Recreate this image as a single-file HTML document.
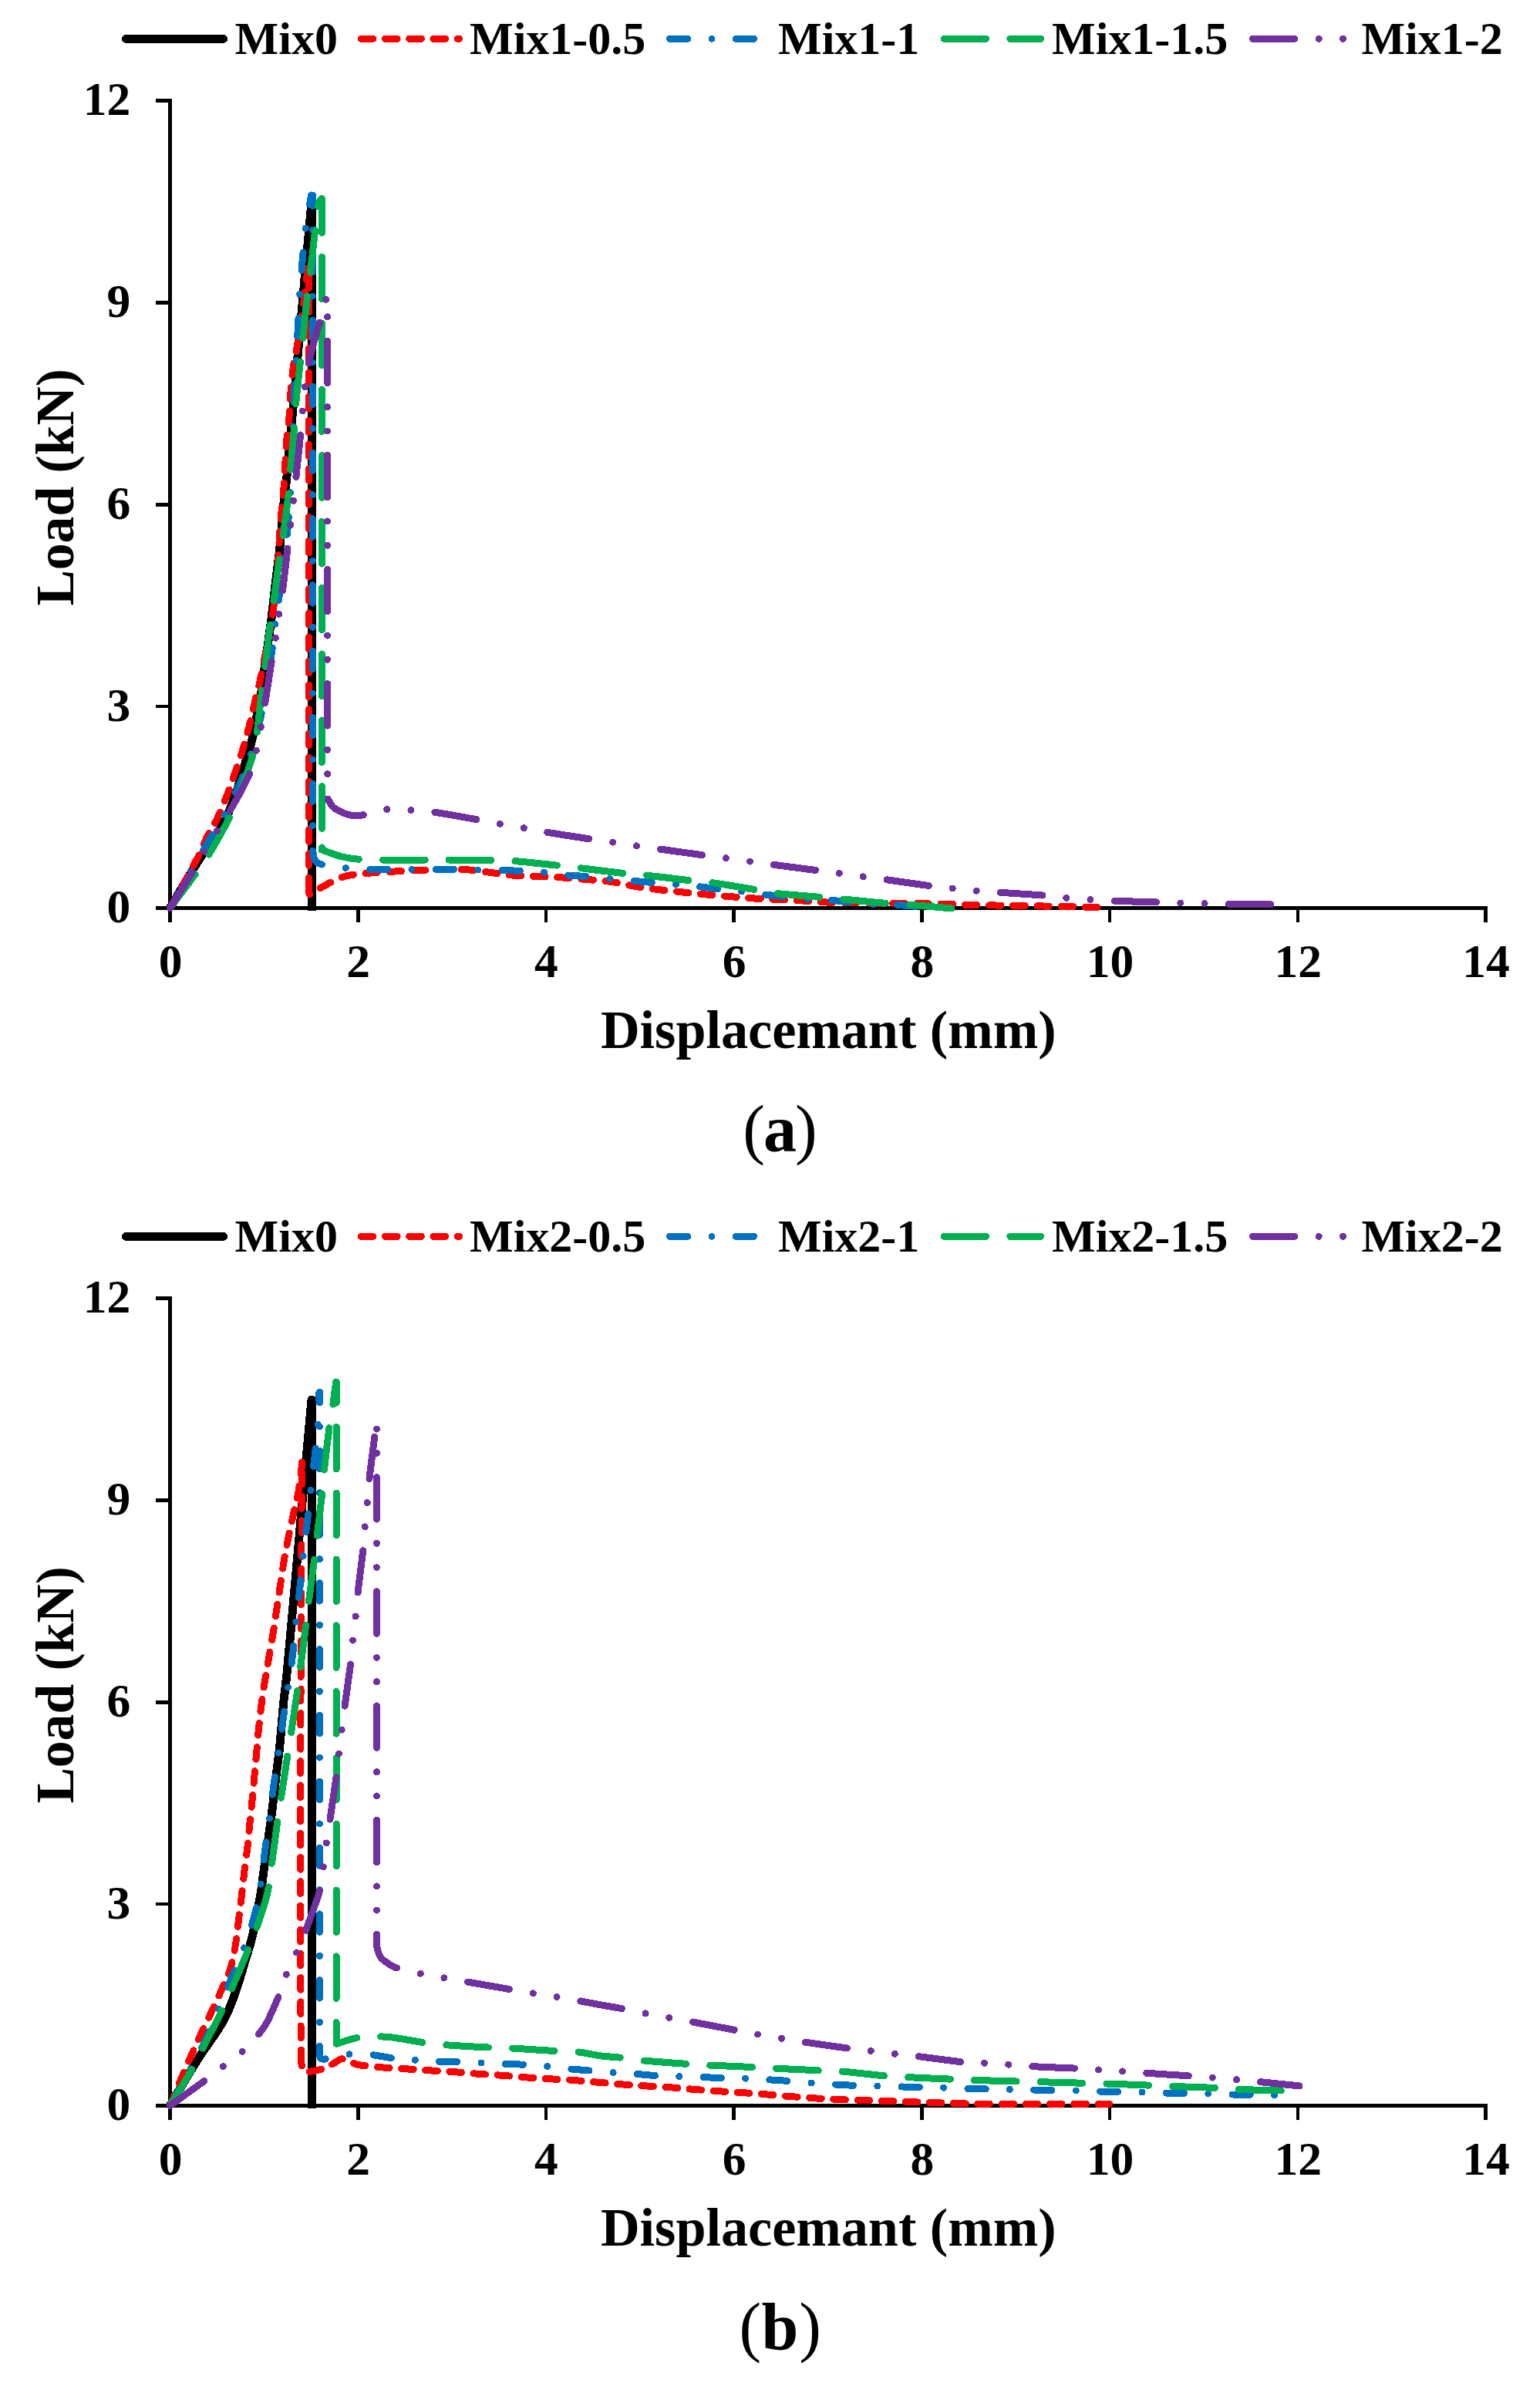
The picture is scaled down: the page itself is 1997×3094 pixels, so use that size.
<!DOCTYPE html>
<html lang="en"><head><meta charset="utf-8"><title>Load-displacement curves</title>
<style>
html,body{margin:0;padding:0;background:#fff}
body{width:1997px;height:3094px;overflow:hidden}
svg{display:block}
text{font-family:"Liberation Serif","DejaVu Serif",serif;font-weight:bold;fill:#000}
.lg{font-size:60px}
.tk{font-size:61.5px}
.ttl{font-size:70.2px}
.ytl{font-size:69.6px}
.sub{font-size:86px}
.par{font-weight:normal}
</style></head><body>
<svg width="1997" height="3094" viewBox="0 0 1997 3094">
<rect width="1997" height="3094" fill="#fff"/>
<g id="chart-a" shape-rendering="crispEdges">
<path d="M163.5 50.3 H289.5" stroke="#000" stroke-width="11" stroke-linecap="round" fill="none"/>
<path d="M468.3 50.3H595.4" stroke="#FF0000" stroke-width="9.0" stroke-linecap="round" fill="none" stroke-dasharray="15.60 15.60" stroke-dashoffset="0.00"/>
<path d="M868.4 50.3H978.4" stroke="#0070C0" stroke-width="9.0" stroke-linecap="round" fill="none" stroke-dasharray="23.40 31.20 0.01 31.20" stroke-dashoffset="0.00"/>
<path d="M1224 50.3H1349.5" stroke="#00B050" stroke-width="9.0" stroke-linecap="round" fill="none" stroke-dasharray="54.60 31.20" stroke-dashoffset="0.00"/>
<path d="M1624.4 50.3H1742.2" stroke="#7030A0" stroke-width="9.0" stroke-linecap="round" fill="none" stroke-dasharray="54.60 31.19 0.01 31.19 0.01 31.19" stroke-dashoffset="0.00"/>
<text x="304.6" y="70" class="lg">Mix0</text>
<text x="609" y="70" class="lg">Mix1-0.5</text>
<text x="1009" y="70" class="lg">Mix1-1</text>
<text x="1364" y="70" class="lg">Mix1-1.5</text>
<text x="1765.4" y="70" class="lg">Mix1-2</text>
<path d="M220.5 128.4V1196M202 1177.6H1928.9" stroke="#000" stroke-width="4.6" fill="none"/>
<path d="M202 130.7H220.5M202 392.4H220.5M202 654.2H220.5M202 916H220.5M464.2 1177.6V1196M707.9 1177.6V1196M951.7 1177.6V1196M1195.4 1177.6V1196M1439.1 1177.6V1196M1682.8 1177.6V1196M1926.5 1177.6V1196" stroke="#000" stroke-width="4.6" fill="none"/>
<text x="169.3" y="149.3" class="tk" text-anchor="end">12</text>
<text x="169.3" y="411.1" class="tk" text-anchor="end">9</text>
<text x="169.3" y="672.8" class="tk" text-anchor="end">6</text>
<text x="169.3" y="934.6" class="tk" text-anchor="end">3</text>
<text x="169.3" y="1196.3" class="tk" text-anchor="end">0</text>
<text x="221" y="1267.4" class="tk" text-anchor="middle">0</text>
<text x="464.7" y="1267.4" class="tk" text-anchor="middle">2</text>
<text x="708.4" y="1267.4" class="tk" text-anchor="middle">4</text>
<text x="952.2" y="1267.4" class="tk" text-anchor="middle">6</text>
<text x="1195.9" y="1267.4" class="tk" text-anchor="middle">8</text>
<text x="1439.6" y="1267.4" class="tk" text-anchor="middle">10</text>
<text x="1683.3" y="1267.4" class="tk" text-anchor="middle">12</text>
<text x="1927" y="1267.4" class="tk" text-anchor="middle">14</text>
<text x="1074.2" y="1359.4" class="ttl" text-anchor="middle">Displacemant (mm)</text>
<text transform="translate(95 631.9) rotate(-90)" class="ytl" text-anchor="middle">Load (kN)</text>
<path d="M220.5 1177.5C226.3 1167.8 243.8 1137.6 255.2 1119.5C266.6 1101.4 280.6 1083.7 289 1068.8C297.4 1053.9 300.8 1043 305.5 1030C310.2 1017 314.4 1001 317.5 991C320.6 981 322.1 976.8 324 970C325.9 963.2 327.4 957.3 329 950C330.6 942.7 332 933.8 333.5 926C335 918.2 336.6 911.8 338 903C339.4 894.2 339.8 889.2 342 873C344.2 856.8 348.8 826.5 351.5 806C354.2 785.5 356.1 765.7 358 750C359.9 734.3 361.1 727.8 362.7 712C364.3 696.2 366.1 671.7 367.7 655C369.3 638.3 369.1 647.8 372.5 612C375.9 576.2 382.8 498.3 388 440C393.2 381.7 401.3 291.7 404 262L404.5 262L404.5 1181" stroke="#000" stroke-width="11.0" fill="none" stroke-linejoin="round" stroke-linecap="butt"/>
<path d="M220.5 1177.5C226.1 1167.3 246.2 1131.5 254.2 1116.2C262.2 1100.9 263.8 1095 268.4 1085.7C273 1076.4 277.8 1069.5 282.1 1060.4C286.4 1051.3 290.6 1040.9 294.4 1031.2C298.2 1021.5 301.4 1011.8 304.8 1002C308.2 992.2 311.5 982.7 314.5 972.7C317.5 962.7 320.4 952.4 323 942.2C325.6 932 327.7 921.8 330.1 911.7C332.5 901.6 334.8 894.1 337.4 881.8C340 869.5 343.2 853.1 346 838C348.8 822.9 352.1 806.5 354.3 791C356.6 775.5 358.1 761.2 359.5 745C360.9 728.8 361.7 706.9 362.6 693.5C363.5 680.1 364 674.7 364.9 664.8C365.8 654.9 367.1 644.3 367.9 633.9C368.7 623.5 369.2 612.6 369.8 602.2C370.4 591.8 370.8 581.7 371.7 571.3C372.6 560.9 374.1 550.5 375 540C375.9 529.5 376.2 518.3 377 508C377.8 497.7 378.6 488 380 478C381.4 468 383.5 460.2 385.5 448C387.5 435.8 389.7 421.8 392 405C394.3 388.2 398.2 356.7 399.5 347" stroke="#FF0000" stroke-width="9.0" fill="none" stroke-linejoin="round" stroke-linecap="round" stroke-dasharray="15.60 15.60" stroke-dashoffset="0.00"/>
<path d="M399.5 347L400.5 347L400.5 1158" stroke="#FF0000" stroke-width="9.0" fill="none" stroke-linejoin="round" stroke-linecap="round" stroke-dasharray="15.60 15.60" stroke-dashoffset="19.15"/>
<path d="M400.5 1158L401.5 1160C403.5 1158.8 408.6 1155.4 413.4 1152.7C418.2 1150 424.2 1146.4 430.3 1143.6C436.4 1140.8 441.2 1137.7 449.7 1135.8C458.1 1133.9 470.6 1133 481 1132C491.4 1131 501.4 1130.6 512 1130C522.6 1129.4 534 1129 544.5 1128.6C555 1128.2 565.2 1127.7 575 1127.5C584.8 1127.3 592.7 1126.8 603 1127.5C613.3 1128.2 626 1130.2 636.8 1131.5C647.6 1132.8 657.6 1134.5 668 1135.3C678.4 1136.1 688.7 1136.1 699 1136.6C709.3 1137 719.6 1137.3 730 1138C740.4 1138.7 750.9 1139.6 761.4 1140.5C771.9 1141.4 782.3 1142 792.7 1143.5C803.1 1145 813.4 1147.7 823.6 1149.4C833.8 1151.1 843.5 1152.3 853.8 1153.6C864.1 1154.9 874.9 1155.9 885.3 1157C895.7 1158.1 905.6 1159 916 1160C926.4 1161 937.2 1161.9 947.6 1162.7C958 1163.5 968.1 1164.3 978.4 1165C988.7 1165.7 999.2 1166.1 1009.6 1166.6C1020 1167.1 1030.6 1167.4 1041 1168C1051.4 1168.6 1061.7 1169.5 1072 1170C1082.3 1170.5 1087.4 1170.5 1102.8 1170.8C1118.2 1171 1148.8 1171.3 1164.5 1171.5C1180.2 1171.7 1186.5 1171.7 1197 1171.8C1207.5 1171.9 1217.3 1172 1227.8 1172.3C1238.2 1172.6 1249.2 1173.2 1259.7 1173.5C1270.2 1173.8 1275.5 1173.8 1291 1174C1306.5 1174.2 1332.2 1174.6 1353 1175C1373.8 1175.4 1403.8 1176.1 1415.6 1176.4C1427.3 1176.7 1422.2 1176.6 1423.5 1176.6" stroke="#FF0000" stroke-width="9.0" fill="none" stroke-linejoin="round" stroke-linecap="round" stroke-dasharray="15.60 15.60" stroke-dashoffset="12.94"/>
<path d="M220.5 1177.5C225.1 1169.6 239.6 1144.7 248 1130C256.4 1115.3 263.7 1102.1 271 1089.6C278.3 1077.1 285.2 1067.3 291.8 1055.2C298.4 1043.1 305.3 1028.6 310.5 1016.9C315.7 1005.2 319.1 996.5 323 985C326.9 973.5 330.5 962.2 334 948C337.5 933.8 340.9 916.9 344 900C347.1 883.1 350.2 862.2 352.3 846.8C354.4 831.4 355.3 819.9 356.9 807.8C358.5 795.7 360.1 787.3 362 774C363.9 760.7 366.3 741.4 368 728C369.7 714.6 371.3 703 372.3 693.5C373.3 684 373.5 680 374.2 670.8C374.9 661.6 375.8 650.3 376.5 638.5C377.2 626.7 377.9 614.6 378.5 600C379.1 585.4 379.8 566.3 380.3 551C380.9 535.7 381.2 522.2 381.8 508C382.4 493.8 383.2 479.8 384 465.6C384.8 451.4 385.7 437.1 386.5 422.8C387.3 408.5 387.8 394.2 388.7 380C389.6 365.8 390.9 351.6 392.2 337.4C393.5 323.2 394.9 306.2 396.4 294.6C397.9 283 399.8 274.9 401 268C402.2 261.1 403.2 255.5 403.6 253" stroke="#0070C0" stroke-width="9.0" fill="none" stroke-linejoin="round" stroke-linecap="round" stroke-dasharray="23.40 31.20 0.01 31.20" stroke-dashoffset="0.00"/>
<path d="M403.6 253L405.5 253L405.5 1100" stroke="#0070C0" stroke-width="9.0" fill="none" stroke-linejoin="round" stroke-linecap="round" stroke-dasharray="23.40 31.20 0.01 31.20" stroke-dashoffset="7.34"/>
<path d="M405.5 1100L405.6 1102C406 1104.2 406.2 1111.8 408.2 1115C410.1 1118.2 410.8 1119.2 417.3 1121C423.8 1122.8 437.2 1124.4 447.1 1125.5C457.1 1126.6 467.5 1127.2 477 1127.5C486.5 1127.8 495 1127.5 504.3 1127.5C513.6 1127.5 523.2 1127.5 532.9 1127.5C542.6 1127.5 553.2 1127.3 562.7 1127.3C572.2 1127.3 580.7 1127.2 590 1127.3C599.3 1127.4 608.9 1127.8 618.6 1128C628.3 1128.2 638.9 1128.4 648.4 1128.6C657.9 1128.8 666.3 1128.9 675.7 1129.4C685.1 1129.9 695 1130.5 704.8 1131.4C714.5 1132.3 724.8 1134.1 734.2 1135C743.6 1135.9 752.1 1135.8 761.4 1136.6C770.7 1137.4 780.2 1138.8 790 1139.7C799.8 1140.7 810.9 1141.5 820.3 1142.3C829.7 1143.1 837 1143.7 846.3 1144.5C855.5 1145.3 865.8 1146.1 875.8 1147C885.8 1147.9 897 1148.7 906.4 1149.7C915.8 1150.7 923.1 1152 932.3 1153C941.5 1154 951.9 1154.8 961.6 1156C971.4 1157.2 981.3 1158.9 990.8 1160C1000.3 1161.1 1009.1 1161.7 1018.4 1162.7C1027.7 1163.7 1036.9 1165.2 1046.6 1166C1056.3 1166.8 1067.4 1166.6 1076.8 1167.3C1086.2 1168 1093.6 1169 1102.8 1170C1112 1171 1122.3 1172.5 1132 1173C1141.7 1173.5 1151 1172.8 1161 1173.3C1171 1173.8 1186.8 1175.3 1192 1175.7" stroke="#0070C0" stroke-width="9.0" fill="none" stroke-linejoin="round" stroke-linecap="round" stroke-dasharray="23.40 31.20 0.01 31.20" stroke-dashoffset="82.46"/>
<path d="M220.5 1177.5C226.1 1170 245.6 1144.1 254 1132.5C262.4 1120.9 263.6 1120.1 271 1107.8C278.4 1095.5 291.1 1073 298.3 1058.4C305.5 1043.8 309 1033.4 314 1020C319 1006.6 325 989.8 328.2 978C331.4 966.2 331.7 961.6 333.4 949.4C335.1 937.2 336.8 919.3 338.5 905C340.2 890.7 341.9 879.6 343.9 863.6C345.9 847.6 348.6 823.1 350.4 809C352.2 794.9 352.8 793.7 354.9 779.2C356.9 764.7 360.7 735.9 362.7 722C364.7 708.1 365.1 710 367.1 695.7C369.1 681.4 373.1 650.3 374.7 636.1C376.3 621.9 375.4 624.8 376.6 610.5C377.8 596.2 380.7 565 381.9 550.2C383.1 535.4 382.5 535.8 383.8 521.8C385.1 507.8 388.2 480.6 389.7 466.4C391.2 452.1 391.5 450.5 393 436.3C394.5 422.1 397.3 395.2 398.9 381C400.5 366.8 401 365 402.7 351C404.4 337 407.4 309.7 408.8 297C410.2 284.3 410.4 280.7 411.2 275C412 269.3 412.5 265.9 413.5 263C414.5 260.1 416.4 258.4 417 257.5" stroke="#00B050" stroke-width="9.0" fill="none" stroke-linejoin="round" stroke-linecap="round" stroke-dasharray="54.60 31.20" stroke-dashoffset="0.00"/>
<path d="M417 257.5L417.4 257.5L417.4 1099" stroke="#00B050" stroke-width="9.0" fill="none" stroke-linejoin="round" stroke-linecap="round" stroke-dasharray="54.60 31.20" stroke-dashoffset="9.60"/>
<path d="M417.4 1099L417.3 1102C421.4 1103.4 434 1108.5 442 1110.6C450 1112.6 456.7 1113.6 465.3 1114.3C473.9 1115 479.4 1114.9 493.9 1115C508.4 1115.1 538 1115 552.3 1115C566.6 1115 565.3 1114.9 579.6 1115C593.9 1115.1 623.7 1115.4 638 1115.6C652.3 1115.8 651 1115.3 665.3 1116.4C679.6 1117.5 709.5 1120.8 723.8 1122.3C738.1 1123.8 736.8 1123.8 751 1125.5C765.2 1127.2 794.6 1130.9 809 1132.5C823.4 1134.1 823.4 1133.5 837.5 1135C851.6 1136.5 879.2 1140 893.4 1141.6C907.6 1143.2 908.3 1142.5 922.6 1144.5C936.9 1146.5 965.3 1151.3 979.4 1153.6C993.5 1155.9 992.9 1156.9 1007 1158.5C1021.1 1160.1 1049.5 1162.2 1063.8 1163.4C1078.1 1164.7 1078.7 1164.7 1093 1166C1107.3 1167.3 1135.8 1170.3 1149.9 1171.5C1164 1172.7 1163.4 1171.9 1177.5 1173C1191.6 1174.1 1224.8 1177.2 1234.3 1178" stroke="#00B050" stroke-width="9.0" fill="none" stroke-linejoin="round" stroke-linecap="round" stroke-dasharray="54.60 31.20" stroke-dashoffset="1.85"/>
<path d="M220.5 1177.5C225.3 1169.7 242.2 1142.8 249.6 1130.5C257.1 1118.2 259.9 1112.8 265.2 1103.9C270.5 1095 275.9 1086.1 281.4 1077.3C286.9 1068.5 291.1 1063.8 298.3 1051.3C305.5 1038.8 318.6 1015.2 324.3 1002C330 988.8 330.3 982.1 332.7 972C335.1 961.9 336.8 951.8 338.6 941.6C340.5 931.4 341.5 925.1 343.8 911C346.1 896.9 350 871.2 352.3 857C354.6 842.8 355.9 836.4 357.5 826C359.1 815.6 360.5 805 362 794.8C363.5 784.6 364.8 779.2 366.6 765C368.5 750.8 371.4 724 373.1 709.7C374.8 695.4 375.8 689.2 377 679C378.2 668.8 379.4 658.6 380.6 648.2C381.8 637.8 382.6 630.8 384.1 616.5C385.6 602.2 388.4 576.4 389.8 562.2C391.2 548 391.4 541.7 392.4 531.3C393.4 520.9 394.2 510.2 395.6 500C397 489.8 398.5 479.8 400.6 469.8C402.7 459.8 405.5 449.2 408 440C410.5 430.8 413.5 422.2 415.7 414.5C417.9 406.8 419.6 399 421 394C422.4 389 423.5 386.1 424 384.5" stroke="#7030A0" stroke-width="9.0" fill="none" stroke-linejoin="round" stroke-linecap="round" stroke-dasharray="54.60 31.19 0.01 31.19 0.01 31.19" stroke-dashoffset="0.00"/>
<path d="M424 384.5L424.6 384.5L424.6 1030" stroke="#7030A0" stroke-width="9.0" fill="none" stroke-linejoin="round" stroke-linecap="round" stroke-dasharray="54.60 31.19 0.01 31.19 0.01 31.19" stroke-dashoffset="90.09"/>
<path d="M424.6 1030L425 1035.8C426.1 1037.5 428.8 1043.4 431.6 1046.2C434.4 1049 438.1 1050.9 442 1052.7C445.9 1054.5 450.2 1056.4 455 1057.1C459.8 1057.8 462.9 1058.2 470.5 1056.9C478.1 1055.7 490.7 1050.6 500.9 1049.6C511.1 1048.5 521.5 1050 531.8 1050.6C542.1 1051.2 548.3 1051.2 562.7 1053.2C577.1 1055.2 603.9 1060.1 618 1062.6C632.1 1065.1 637.4 1066.5 647.4 1068.3C657.4 1070.1 667.5 1071.7 677.8 1073.5C688.1 1075.3 694.6 1076.8 709 1079.2C723.4 1081.6 749.8 1085.7 764 1087.8C778.2 1089.9 784.2 1090.5 794.4 1092C804.6 1093.5 815.1 1095.3 825.2 1096.8C835.3 1098.3 840.7 1099 855 1101C869.3 1103 896.8 1106.8 911.2 1108.8C925.6 1110.8 931.3 1111.3 941.4 1112.7C951.5 1114.1 961.9 1115.6 972 1117C982.1 1118.4 987.5 1119.3 1002 1121.2C1016.5 1123.1 1044.5 1126.7 1059 1128.6C1073.5 1130.5 1078.7 1131.1 1088.8 1132.5C1098.9 1133.9 1109.4 1135.5 1119.4 1136.8C1129.4 1138.1 1134 1138.6 1148.6 1140.6C1163.1 1142.6 1192.3 1146.9 1206.7 1148.8C1221.1 1150.7 1225.2 1150.9 1235.2 1152C1245.2 1153.1 1256.2 1154.3 1266.5 1155.2C1276.8 1156.1 1282.4 1156.3 1297 1157.3C1311.6 1158.3 1339.7 1160 1354 1161.2C1368.3 1162.4 1372.9 1163.5 1383 1164.4C1393.1 1165.3 1404.3 1166.1 1414.6 1166.7C1424.9 1167.3 1430.3 1167.8 1444.8 1168.3C1459.3 1168.8 1487.1 1169.5 1501.6 1170C1516.1 1170.5 1521.6 1170.7 1531.8 1171C1542 1171.3 1552.9 1171.4 1563 1171.6C1573.1 1171.8 1577.8 1172 1592.5 1172.2C1607.2 1172.4 1641.2 1172.8 1651 1172.9" stroke="#7030A0" stroke-width="9.0" fill="none" stroke-linejoin="round" stroke-linecap="round" stroke-dasharray="54.60 31.19 0.01 31.19 0.01 31.19" stroke-dashoffset="142.04"/>
<text y="1492.5" class="sub" text-anchor="middle"><tspan class="par" x="977.6">(</tspan><tspan x="1011.4">a</tspan><tspan class="par" x="1045.4">)</tspan></text>
</g>
<g id="chart-b" shape-rendering="crispEdges" transform="translate(0 1553)">
<path d="M163.5 50.3 H289.5" stroke="#000" stroke-width="11" stroke-linecap="round" fill="none"/>
<path d="M468.3 50.3H595.4" stroke="#FF0000" stroke-width="9.0" stroke-linecap="round" fill="none" stroke-dasharray="15.60 15.60" stroke-dashoffset="0.00"/>
<path d="M868.4 50.3H978.4" stroke="#0070C0" stroke-width="9.0" stroke-linecap="round" fill="none" stroke-dasharray="23.40 31.20 0.01 31.20" stroke-dashoffset="0.00"/>
<path d="M1224 50.3H1349.5" stroke="#00B050" stroke-width="9.0" stroke-linecap="round" fill="none" stroke-dasharray="54.60 31.20" stroke-dashoffset="0.00"/>
<path d="M1624.4 50.3H1742.2" stroke="#7030A0" stroke-width="9.0" stroke-linecap="round" fill="none" stroke-dasharray="54.60 31.19 0.01 31.19 0.01 31.19" stroke-dashoffset="0.00"/>
<text x="304.6" y="70" class="lg">Mix0</text>
<text x="609" y="70" class="lg">Mix2-0.5</text>
<text x="1009" y="70" class="lg">Mix2-1</text>
<text x="1364" y="70" class="lg">Mix2-1.5</text>
<text x="1765.4" y="70" class="lg">Mix2-2</text>
<path d="M220.5 128.4V1196M202 1177.6H1928.9" stroke="#000" stroke-width="4.6" fill="none"/>
<path d="M202 130.7H220.5M202 392.4H220.5M202 654.2H220.5M202 916H220.5M464.2 1177.6V1196M707.9 1177.6V1196M951.7 1177.6V1196M1195.4 1177.6V1196M1439.1 1177.6V1196M1682.8 1177.6V1196M1926.5 1177.6V1196" stroke="#000" stroke-width="4.6" fill="none"/>
<text x="169.3" y="149.3" class="tk" text-anchor="end">12</text>
<text x="169.3" y="411.1" class="tk" text-anchor="end">9</text>
<text x="169.3" y="672.8" class="tk" text-anchor="end">6</text>
<text x="169.3" y="934.6" class="tk" text-anchor="end">3</text>
<text x="169.3" y="1196.3" class="tk" text-anchor="end">0</text>
<text x="221" y="1267.4" class="tk" text-anchor="middle">0</text>
<text x="464.7" y="1267.4" class="tk" text-anchor="middle">2</text>
<text x="708.4" y="1267.4" class="tk" text-anchor="middle">4</text>
<text x="952.2" y="1267.4" class="tk" text-anchor="middle">6</text>
<text x="1195.9" y="1267.4" class="tk" text-anchor="middle">8</text>
<text x="1439.6" y="1267.4" class="tk" text-anchor="middle">10</text>
<text x="1683.3" y="1267.4" class="tk" text-anchor="middle">12</text>
<text x="1927" y="1267.4" class="tk" text-anchor="middle">14</text>
<text x="1074.2" y="1359.4" class="ttl" text-anchor="middle">Displacemant (mm)</text>
<text transform="translate(95 631.9) rotate(-90)" class="ytl" text-anchor="middle">Load (kN)</text>
<path d="M220.5 1177.5C226.3 1167.8 243.8 1137.6 255.2 1119.5C266.6 1101.4 280.6 1083.7 289 1068.8C297.4 1053.9 300.8 1043 305.5 1030C310.2 1017 314.4 1001 317.5 991C320.6 981 322.1 976.8 324 970C325.9 963.2 327.4 957.3 329 950C330.6 942.7 332 933.8 333.5 926C335 918.2 336.6 911.8 338 903C339.4 894.2 339.8 889.2 342 873C344.2 856.8 348.8 826.5 351.5 806C354.2 785.5 356.1 765.7 358 750C359.9 734.3 361.1 727.8 362.7 712C364.3 696.2 366.1 671.7 367.7 655C369.3 638.3 369.1 647.8 372.5 612C375.9 576.2 382.8 498.3 388 440C393.2 381.7 401.3 291.7 404 262L404.5 262L404.5 1181" stroke="#000" stroke-width="11.0" fill="none" stroke-linejoin="round" stroke-linecap="butt"/>
<path d="M220.5 1177.5C223.1 1171.2 231.5 1150.8 236 1140C240.5 1129.2 243.6 1122.3 247.7 1113C251.8 1103.7 256.2 1093.9 260.6 1084.4C265 1074.9 269.9 1065.3 274.3 1055.8C278.8 1046.3 283.2 1036.8 287.3 1027.3C291.4 1017.8 296 1008.6 299 998.7C302 988.9 303.8 978.5 305.5 968.2C307.2 957.9 308.1 947.5 309.4 937C310.7 926.5 312.2 915.4 313.4 905C314.6 894.6 315.6 884.6 316.8 874.4C318 864.1 319.6 853.8 320.8 843.5C322 833.2 322.8 823 323.8 812.7C324.8 802.4 326 792.1 327 781.8C328 771.5 328.9 761.3 329.8 751C330.8 740.7 331.8 730.4 332.7 720C333.6 709.6 334.4 698.9 335.5 688.5C336.6 678.1 337.6 668 339 657.6C340.4 647.2 342 636.1 343.6 626C345.2 615.9 346.8 607.4 348.6 597C350.4 586.6 352.6 574.3 354.3 563.7C356 553.1 357.3 543.8 358.8 533.6C360.3 523.4 361.9 512.9 363.5 502.5C365.1 492.1 366.5 481.7 368.2 471.5C369.9 461.3 371.9 451.4 373.9 441.3C375.9 431.2 378.1 421.2 380.3 411.2C382.5 401.1 385.2 391.4 387 381C388.8 370.6 390.5 355.5 391.2 349C391.9 342.5 391.4 343.2 391.4 342" stroke="#FF0000" stroke-width="9.0" fill="none" stroke-linejoin="round" stroke-linecap="round" stroke-dasharray="15.60 15.60" stroke-dashoffset="0.00"/>
<path d="M391.4 342L391.5 342L389.5 750L389.8 1050L390.5 1120" stroke="#FF0000" stroke-width="9.0" fill="none" stroke-linejoin="round" stroke-linecap="round" stroke-dasharray="15.60 15.60" stroke-dashoffset="16.71"/>
<path d="M390.5 1120L392 1130C392.6 1130.6 391.3 1133.8 395.6 1133.8C399.9 1133.8 411 1132.1 417.7 1129.9C424.4 1127.7 431.7 1123 435.8 1120.8C439.9 1118.6 439.6 1117.1 442.3 1116.9C445 1116.7 448.1 1118.2 452 1119.5C455.9 1120.8 458.2 1123.3 465.7 1124.7C473.2 1126.1 486.5 1127.1 496.9 1128C507.3 1128.9 517.6 1129.2 528 1129.9C538.4 1130.6 548.8 1131.3 559.2 1132C569.6 1132.7 580 1133.1 590.4 1133.8C600.8 1134.5 611.2 1135.6 621.6 1136.4C632 1137.2 642.3 1137.6 652.7 1138.4C663.1 1139.2 673.5 1140.2 683.9 1141C694.3 1141.8 704.6 1142.3 715 1142.9C725.4 1143.5 736 1144 746.2 1144.7C756.5 1145.4 766.2 1146.4 776.5 1147.3C786.8 1148.2 797.6 1149.2 808 1150C818.4 1150.8 828.4 1151.3 838.8 1152C849.2 1152.7 860.1 1153.2 870.6 1153.9C881.1 1154.7 891.1 1155.7 901.5 1156.5C911.9 1157.3 922.6 1158.1 933 1158.8C943.4 1159.5 953.5 1160 963.8 1160.7C974.1 1161.4 984.7 1162.2 995 1163C1005.3 1163.8 1015.4 1164.8 1025.8 1165.6C1036.2 1166.4 1046.9 1167.2 1057.3 1167.9C1067.7 1168.6 1077.8 1169.1 1088.2 1169.5C1098.7 1169.9 1109.6 1170.2 1120 1170.5C1130.4 1170.8 1140.4 1171 1150.8 1171.4C1161.2 1171.8 1171.9 1172.3 1182.3 1172.7C1192.7 1173.1 1202.9 1173.4 1213.2 1173.7C1223.5 1174 1229.5 1174.4 1244 1174.7C1258.5 1175 1267.6 1175.2 1300 1175.3C1332.4 1175.4 1415.4 1175.3 1438.5 1175.3" stroke="#FF0000" stroke-width="9.0" fill="none" stroke-linejoin="round" stroke-linecap="round" stroke-dasharray="15.60 15.60" stroke-dashoffset="9.58"/>
<path d="M220.5 1177.5C224.1 1171.1 234.8 1152.1 242 1139C249.2 1125.9 256.5 1113.3 263.5 1098.7C270.5 1084.1 278 1065.6 284 1051.3C290 1037 294.2 1026.1 299.6 1013C305 999.9 312.1 984.2 316.5 972.7C320.9 961.2 323.5 953.1 326.2 944.2C328.9 935.3 330.7 928.5 332.7 919.5C334.7 910.5 336.4 902.1 338.2 890C340 877.9 341.7 861 343.6 846.8C345.5 832.5 347.7 818.6 349.6 804.5C351.5 790.4 352.9 776.5 354.9 762.3C356.9 748.1 359.4 733.5 361.4 719.3C363.4 705.1 365.1 691.2 367.1 677C369.1 662.8 371.8 646 373.6 634C375.4 622 376.8 614.2 378 605C379.2 595.8 380.1 588 381.1 578.8C382.1 569.5 382.7 561.4 384 549.5C385.3 537.6 387.2 521.8 388.7 507.5C390.2 493.2 391.6 478.4 393.2 464C394.8 449.6 396.6 435.2 398.3 421C400 406.8 401.7 392.6 403.3 378.5C404.9 364.4 406.5 350.6 408 336.5C409.5 322.4 411.2 305.7 412.1 293.8C413 281.9 413.3 271.9 413.6 265C413.9 258.1 413.9 254.4 414 252.3" stroke="#0070C0" stroke-width="9.0" fill="none" stroke-linejoin="round" stroke-linecap="round" stroke-dasharray="23.40 31.20 0.01 31.20" stroke-dashoffset="0.00"/>
<path d="M414 252.3L414.5 252.3L414.5 1112" stroke="#0070C0" stroke-width="9.0" fill="none" stroke-linejoin="round" stroke-linecap="round" stroke-dasharray="23.40 31.20 0.01 31.20" stroke-dashoffset="9.43"/>
<path d="M414.5 1112L415.1 1115.6C416.2 1115.8 415.4 1117.8 421.6 1117C427.8 1116.2 442 1111.8 452.2 1110.9C462.4 1110 473.4 1110.9 482.6 1111.7C491.8 1112.5 498.1 1114.5 507.3 1115.6C516.5 1116.7 527.5 1117.4 537.7 1118.2C547.9 1119 559.1 1119.9 568.3 1120.3C577.5 1120.7 583.8 1120.5 593 1120.8C602.2 1121.1 613.2 1121.6 623.4 1122C633.6 1122.4 644.8 1123 654 1123.4C663.2 1123.8 669.5 1123.7 678.7 1124.2C687.9 1124.7 699.2 1125.5 709.4 1126.5C719.6 1127.5 730.5 1129 739.7 1129.9C748.9 1130.8 755.2 1131.2 764.4 1132C773.6 1132.8 784.9 1134 795 1134.7C805.1 1135.4 815.8 1135.8 825.2 1136.4C834.6 1137.1 842 1138.1 851.2 1138.6C860.4 1139.1 870.5 1139.3 880.4 1139.6C890.2 1139.9 900.9 1140.3 910.3 1140.6C919.7 1140.9 927.2 1141.3 936.6 1141.6C946 1141.9 956.5 1141.8 966.4 1142.2C976.3 1142.6 986.9 1143.2 996.3 1143.8C1005.7 1144.3 1013.3 1144.8 1022.6 1145.5C1031.9 1146.2 1042.2 1147.2 1052 1148C1061.8 1148.8 1072.3 1149.5 1081.7 1150C1091.1 1150.5 1099 1151 1108.3 1151.3C1117.6 1151.6 1127.6 1151.7 1137.5 1152C1147.4 1152.3 1158.2 1152.6 1167.7 1152.9C1177.2 1153.2 1185 1153.4 1194.4 1153.6C1203.8 1153.8 1214.2 1153.9 1224 1154.2C1233.8 1154.5 1243.8 1155.2 1253 1155.5C1262.2 1155.8 1269.6 1155.6 1279 1155.8C1288.4 1156 1299.2 1156.2 1309.4 1156.4C1319.6 1156.6 1330.9 1156.8 1340.3 1157C1349.7 1157.2 1356.8 1157.2 1366 1157.4C1375.2 1157.6 1385.8 1157.7 1395.8 1158C1405.8 1158.3 1416.6 1158.8 1426 1159C1435.4 1159.2 1442.8 1159.2 1452 1159.4C1461.2 1159.6 1471 1159.7 1481 1160C1491 1160.3 1502.5 1160.8 1512 1161C1521.5 1161.2 1528.8 1161.1 1538 1161.3C1547.2 1161.5 1557.5 1161.7 1567.5 1162C1577.5 1162.3 1588.7 1162.8 1598 1163C1607.3 1163.2 1614.2 1163 1623.4 1163.2C1632.6 1163.4 1648.1 1163.9 1653 1164" stroke="#0070C0" stroke-width="9.0" fill="none" stroke-linejoin="round" stroke-linecap="round" stroke-dasharray="23.40 31.20 0.01 31.20" stroke-dashoffset="12.01"/>
<path d="M220.5 1177.5C225 1170 240.6 1145 247.7 1132.5C254.8 1120 256.5 1115.7 263.2 1102.6C269.9 1089.5 281.6 1066.9 287.9 1053.9C294.2 1040.9 295.2 1037.9 300.9 1024.7C306.6 1011.5 316.9 987.9 322.3 974.7C327.7 961.5 329.4 957.5 333.4 945.5C337.4 933.5 343.3 916.8 346.5 903C349.7 889.2 350.3 878.6 352.5 863C354.7 847.4 357.8 823.7 359.8 809.4C361.8 795.1 362.5 791.2 364.7 777C366.9 762.8 370.6 738.3 372.8 724.2C375 710.1 375.5 706.7 377.7 692.5C379.9 678.3 383.8 653.1 385.8 639C387.8 624.9 387.9 622.5 389.8 608C391.7 593.5 395.2 566.1 397 552C398.8 537.9 398.6 537.8 400.4 523.5C402.2 509.2 406.2 480.9 408 466.5C409.8 452.1 409.6 451.4 411.3 437.2C413 422.9 416.5 395.1 418 381C419.5 366.9 419 366.5 420.5 352.5C422 338.5 425.3 311.4 427.2 297.2C429.1 282.9 430.6 276.7 432 267C433.4 257.3 435 243.7 435.6 239" stroke="#00B050" stroke-width="9.0" fill="none" stroke-linejoin="round" stroke-linecap="round" stroke-dasharray="54.60 31.20" stroke-dashoffset="0.00"/>
<path d="M435.6 239L436.2 239L436.2 1094" stroke="#00B050" stroke-width="9.0" fill="none" stroke-linejoin="round" stroke-linecap="round" stroke-dasharray="54.60 31.20" stroke-dashoffset="26.80"/>
<path d="M436.2 1094L436.4 1097.4C440.6 1096.1 454.5 1091.1 461.8 1089.6C469.1 1088.1 472.8 1088.7 480 1088.5C487.2 1088.3 493.8 1087.4 505 1088.5C516.2 1089.6 535.3 1093.6 547.5 1095.3C559.7 1097 563.7 1097.6 578 1098.7C592.3 1099.8 618.9 1101.3 633.2 1102C647.5 1102.7 649.3 1102.2 663.6 1103C677.9 1103.8 704.8 1105.7 719 1106.5C733.2 1107.3 738.6 1106.7 748.8 1107.8C759 1108.9 770.5 1111.8 780 1113C789.5 1114.2 796.7 1114.3 805.7 1115.3C814.8 1116.3 820.1 1117.7 834.3 1119C848.5 1120.3 876.6 1122.4 890.8 1123.4C905 1124.4 905.1 1124.3 919.4 1125C933.7 1125.7 962.5 1126.9 976.8 1127.6C991.1 1128.3 991.2 1128.5 1005.4 1129.2C1019.6 1129.9 1047.9 1131.2 1062.2 1131.8C1076.5 1132.4 1077.1 1131.8 1091.4 1133C1105.7 1134.2 1134 1137.7 1148.2 1139C1162.4 1140.3 1162.5 1139.9 1176.8 1140.6C1191.1 1141.3 1219.9 1142.6 1234.3 1143.2C1248.7 1143.8 1248.8 1143.9 1263 1144.4C1277.2 1144.9 1305.5 1145.6 1319.8 1146C1334.1 1146.4 1334.7 1146.3 1349 1146.7C1363.3 1147.1 1391.5 1147.9 1405.8 1148.3C1420.1 1148.7 1420.7 1148.5 1435 1149C1449.3 1149.5 1477.6 1150.6 1491.9 1151.2C1506.2 1151.8 1506.7 1152 1521 1152.5C1535.3 1153 1563.9 1153.8 1578 1154.5C1592.1 1155.2 1591.2 1155.8 1605.5 1156.4C1619.8 1157 1654.2 1157.7 1664 1158" stroke="#00B050" stroke-width="9.0" fill="none" stroke-linejoin="round" stroke-linecap="round" stroke-dasharray="54.60 31.20" stroke-dashoffset="23.67"/>
<path d="M220.5 1177.5C228.1 1172 254.2 1153.3 265.8 1144.8C277.4 1136.2 281.8 1132.5 289.9 1126.2C298 1119.9 306.9 1113.9 314.5 1107C322.1 1100.1 330 1091.4 335.3 1085C340.6 1078.6 342.1 1077 346.4 1068.8C350.7 1060.6 357.1 1046 361.3 1035.7C365.5 1025.4 367.5 1016.4 371.4 1006.8C375.3 997.2 380.5 987.7 384.7 978.3C388.9 968.9 392.2 961.5 396.4 950.6C400.6 939.7 406.9 921.9 410 913C413.1 904.1 413.3 904.7 414.9 897C416.5 889.3 418 877.1 419.4 867C420.8 856.9 422 846.3 423.4 836.2C424.8 826.1 425.9 820.5 428 806.2C430.1 791.9 434.2 764.5 436.1 750.2C438 735.9 438.2 730.6 439.4 720.5C440.6 710.4 442.1 699.5 443.4 689.3C444.7 679.1 445.2 673.6 447.1 659.3C449 644.9 453 617.6 454.8 603.2C456.6 588.8 456.6 583.3 457.7 573C458.8 562.7 460.2 551.8 461.3 541.6C462.4 531.4 462.5 526 464.1 511.8C465.7 497.6 469.3 470.8 470.8 456.4C472.3 442 472.4 435.8 473.3 425.4C474.2 415 475.4 404.5 476.4 394C477.4 383.5 477.6 376.8 479.2 362.6C480.8 348.4 484.5 320.8 485.9 309C487.3 297.2 487.5 294.8 487.8 292" stroke="#7030A0" stroke-width="9.0" fill="none" stroke-linejoin="round" stroke-linecap="round" stroke-dasharray="54.60 31.19 0.01 31.19 0.01 31.19" stroke-dashoffset="0.00"/>
<path d="M487.8 292L488.5 292L488.5 962" stroke="#7030A0" stroke-width="9.0" fill="none" stroke-linejoin="round" stroke-linecap="round" stroke-dasharray="54.60 31.19 0.01 31.19 0.01 31.19" stroke-dashoffset="76.97"/>
<path d="M488.5 962L488.3 970C489.1 972.4 490.7 980.7 493 984.4C495.3 988.1 498.5 989.8 502 992.2C505.5 994.6 506.8 996.4 513.8 998.7C520.8 1001 534 1003.8 544.2 1006C554.5 1008.2 565.1 1009.9 575.3 1011.7C585.5 1013.5 591.3 1014.4 605.5 1016.9C619.7 1019.4 646.3 1024 660.5 1026.5C674.7 1029 680.7 1030 690.9 1031.7C701.1 1033.4 711.5 1034.8 721.6 1036.4C731.7 1038.1 741.7 1039.8 751.4 1041.6C761.1 1043.4 770.5 1045.3 780 1047C789.5 1048.7 798.8 1050.2 808.3 1052C817.8 1053.8 827 1055.9 836.9 1057.8C846.8 1059.7 857.3 1061.5 867.4 1063.3C877.5 1065.1 883 1066.1 897.3 1068.8C911.6 1071.5 939.2 1076.8 953.4 1079.5C967.6 1082.2 972.7 1083.2 982.7 1085C992.7 1086.8 1003.4 1088.6 1013.5 1090.3C1023.6 1092 1028.9 1092.8 1043.4 1095C1057.9 1097.2 1086.1 1101.3 1100.5 1103.2C1114.9 1105.1 1119.6 1105.3 1129.7 1106.5C1139.8 1107.7 1150.8 1109.2 1160.9 1110.4C1171 1111.6 1176.1 1111.9 1190.5 1113.6C1204.9 1115.3 1232.8 1119.3 1247.3 1120.8C1261.8 1122.2 1267.4 1121.7 1277.6 1122.3C1287.8 1122.9 1298.4 1123.6 1308.4 1124.3C1318.4 1125 1323.1 1125.8 1337.7 1126.6C1352.3 1127.4 1381.4 1128.5 1396 1129.2C1410.6 1129.9 1415.2 1130.4 1425.3 1131C1435.4 1131.6 1446.2 1132.3 1456.5 1133C1466.8 1133.7 1472.5 1134.3 1487 1135.3C1501.5 1136.3 1529.4 1138 1543.8 1139C1558.2 1140 1563.3 1140.4 1573.4 1141.2C1583.5 1142 1594.3 1142.9 1604.5 1143.8C1614.7 1144.7 1621.3 1145.3 1634.7 1146.7C1648.1 1148.1 1676.6 1151 1685 1151.9" stroke="#7030A0" stroke-width="9.0" fill="none" stroke-linejoin="round" stroke-linecap="round" stroke-dasharray="54.60 31.19 0.01 31.19 0.01 31.19" stroke-dashoffset="4.75"/>
<text y="1492.5" class="sub" text-anchor="middle"><tspan class="par" x="972.8">(</tspan><tspan x="1011.5">b</tspan><tspan class="par" x="1050.6">)</tspan></text>
</g>
</svg>
</body></html>
